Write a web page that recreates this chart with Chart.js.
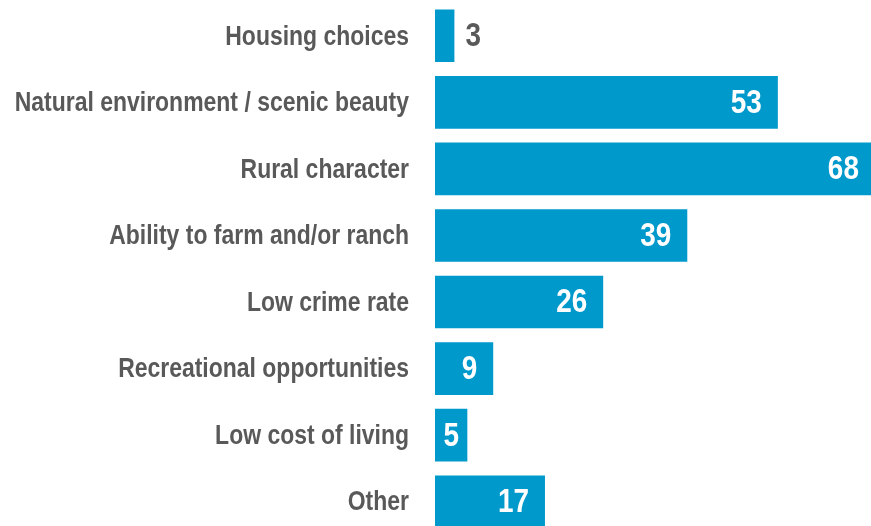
<!DOCTYPE html>
<html>
<head>
<meta charset="utf-8">
<script src="https://cdn.jsdelivr.net/npm/chart.js@4/dist/chart.umd.min.js"></script>
<style>
  html, body { margin: 0; padding: 0; background: #fff; overflow: hidden; }
  #wrap { width: 871px; height: 526px; overflow: hidden; }
</style>
</head>
<body>
<div id="wrap"><canvas id="chart" width="871" height="535"></canvas></div>
<script>
const categories = [
  "Housing choices",
  "Natural environment / scenic beauty",
  "Rural character",
  "Ability to farm and/or ranch",
  "Low crime rate",
  "Recreational opportunities",
  "Low cost of living",
  "Other"
];
const values = [3, 53, 68, 39, 26, 9, 5, 17];

// no Arial Narrow here, so squeeze Liberation Sans (Arial metrics) sideways
const FONT = '"Liberation Sans", Arial, sans-serif';
const NARROW = 0.82;
const barColor = "#0099cc";
const textColor = "#595959";

function narrowText(ctx, txt, x, y, align) {
  ctx.save();
  ctx.translate(x, y);
  ctx.scale(NARROW, 1);
  ctx.textAlign = align;
  ctx.fillText(txt, 0, 0);
  ctx.restore();
}

// category names, placed from the y scale
const categoryLabels = {
  id: "categoryLabels",
  afterDraw(chart) {
    const ctx = chart.ctx;
    const yScale = chart.scales.y;
    ctx.save();
    ctx.font = "bold 28px " + FONT;
    ctx.fillStyle = textColor;
    ctx.textBaseline = "middle";
    yScale.ticks.forEach((t, i) => {
      narrowText(ctx, yScale.getLabelForValue(t.value), yScale.right - 26, yScale.getPixelForTick(i) + 1, "right");
    });
    ctx.restore();
  }
};

// numbers at the end of each bar
const valueLabels = {
  id: "valueLabels",
  afterDatasetsDraw(chart) {
    const ctx = chart.ctx;
    const meta = chart.getDatasetMeta(0);
    ctx.save();
    ctx.font = "bold 34px " + FONT;
    ctx.textBaseline = "middle";
    meta.data.forEach((bar, i) => {
      const txt = String(values[i]);
      const w = ctx.measureText(txt).width * NARROW;
      const barW = bar.x - bar.base;
      if (barW < 25) {
        ctx.fillStyle = textColor;
        narrowText(ctx, txt, bar.x + 11, bar.y + 1, "left");
      } else if (barW < w + 32) {
        ctx.fillStyle = "#fff";
        narrowText(ctx, txt, (bar.x + bar.base) / 2, bar.y + 1, "center");
      } else {
        ctx.fillStyle = "#fff";
        narrowText(ctx, txt, bar.x - 16, bar.y + 1, "right");
      }
    });
    ctx.restore();
  }
};

const ctx = document.getElementById("chart").getContext("2d");
const chart = new Chart(ctx, {
  type: "bar",
  data: {
    labels: categories,
    datasets: [{
      data: values,
      backgroundColor: barColor,
      borderWidth: 0,
      barPercentage: 0.79,
      categoryPercentage: 1
    }]
  },
  options: {
    indexAxis: "y",
    responsive: false,
    animation: false,
    layout: { padding: { top: 2.5, right: 0, bottom: 0, left: 0 } },
    plugins: {
      legend: { display: false },
      tooltip: { enabled: false }
    },
    scales: {
      x: {
        display: false,
        min: 0,
        max: 67.4   // longest bar runs off the right edge in the original
      },
      y: {
        grid: { display: false, drawTicks: false },
        border: { display: false },
        ticks: { display: false },
        afterFit(scale) {
          scale.width = 435;
          scale.paddingTop = 0;
          scale.paddingBottom = 0;
        }
      }
    }
  },
  plugins: [valueLabels, categoryLabels]
});
</script>
</body>
</html>
